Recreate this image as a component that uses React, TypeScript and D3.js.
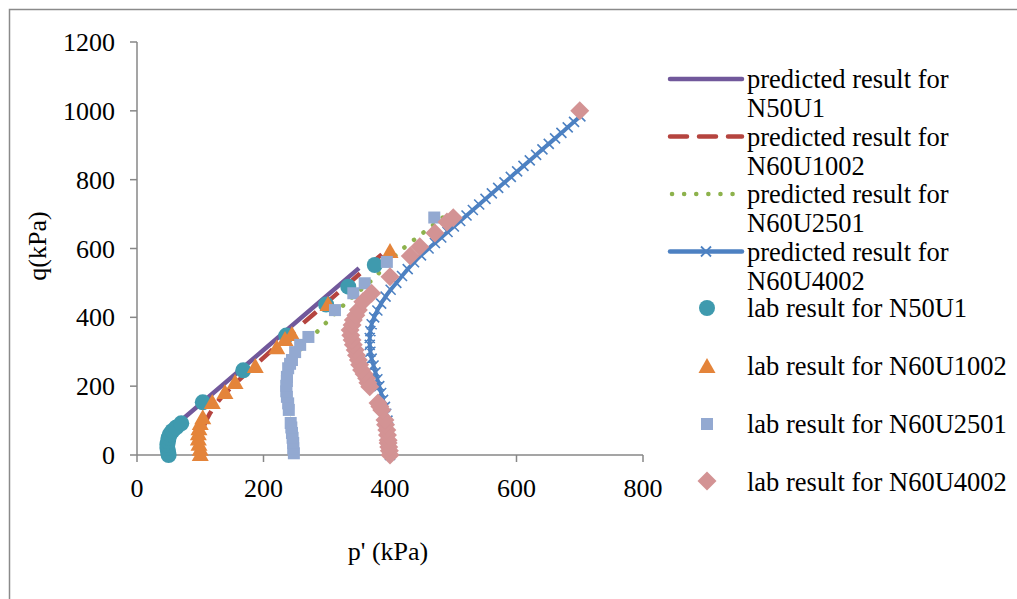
import React from 'react';
import * as d3 from 'd3';

// axis ticks
const xTicks = [0, 200, 400, 600, 800];
const yTicks = [0, 200, 400, 600, 800, 1000, 1200];

// predicted paths [p', q]
const predN50U1: [number, number][] = [
  [50, 0], [50, 30], [56, 60], [76, 110], [200, 305], [351, 543],
];
const predN60U1002: [number, number][] = [
  [100, 0], [101, 40], [105, 80], [115, 120], [130, 160], [205, 291], [281, 412], [395, 596],
];
const predN60U2501: [number, number][] = [
  [250, 0], [247, 50], [243, 100], [240, 150], [240, 200], [244, 250], [252, 290], [270, 330],
  [294, 375], [332, 445], [373, 511], [411, 584], [454, 648], [485, 692],
];
const predN60U4002: [number, number][] = [
  [400, 0], [400, 20], [399, 40], [398, 60], [397, 80], [396, 100], [394, 120], [392, 140],
  [389, 160], [386, 180], [383, 200], [380, 220], [377, 240], [374, 260], [371, 280], [369, 300],
  [368, 320], [368, 340], [369, 360], [371, 380], [375, 400], [380, 420], [386, 440], [393, 460],
  [401, 480], [410, 500], [419, 520], [428, 540], [438, 560], [449, 580], [461, 600],
  [471, 616], [481, 632], [491, 648], [501, 664], [511, 680], [521, 696], [531, 712], [541, 728],
  [551, 744], [561, 760], [571, 776], [581, 792], [591, 808], [601, 824], [611, 840], [621, 856],
  [631, 872], [641, 888], [651, 904], [661, 920], [671, 936], [681, 952], [691, 968], [701, 984],
];

// lab results [p', q]
const labN50U1: [number, number][] = [
  [50, 0], [49, 10], [48, 20], [48, 30], [49, 40], [50, 50], [52, 60], [56, 70], [62, 80],
  [70, 92], [104, 153], [168, 246], [236, 347], [299, 437], [334, 489], [376, 552],
];
const labN60U1002: [number, number][] = [
  [100, 0], [100, 15], [98, 30], [97, 45], [97, 60], [98, 75], [100, 90], [104, 107], [119, 151],
  [139, 180], [155, 209], [187, 256], [221, 310], [234, 334], [245, 349], [302, 436], [400, 590],
];
const labN60U2501: [number, number][] = [
  [248, 5], [247, 20], [247, 35], [246, 50], [245, 64], [244, 80], [243, 93], [240, 131],
  [239, 150], [237, 169], [236, 185], [236, 201], [237, 215], [237, 227], [239, 252], [242, 265],
  [245, 276], [250, 299], [258, 320], [271, 343], [313, 421], [342, 470], [360, 499], [395, 561],
  [470, 690],
];
const labN60U4002: [number, number][] = [
  [400, 0], [399, 12], [398, 23], [397, 35], [397, 43], [396, 58], [395, 73], [393, 88], [392, 102],
  [387, 131], [384, 141], [381, 151], [368, 198], [365, 210], [363, 223], [359, 235], [355, 247],
  [352, 262], [350, 276], [347, 290], [345, 305], [342, 320], [340, 334], [338, 348], [337, 363],
  [340, 378], [342, 392], [346, 406], [350, 421], [357, 445], [371, 470], [400, 518], [432, 578],
  [447, 605], [471, 645], [490, 677], [500, 689], [700, 1000],
];

const legendLabels = [
  ['predicted result for', 'N50U1'],
  ['predicted result for', 'N60U1002'],
  ['predicted result for', 'N60U2501'],
  ['predicted result for', 'N60U4002'],
  ['lab result for N50U1'],
  ['lab result for N60U1002'],
  ['lab result for N60U2501'],
  ['lab result for N60U4002'],
];

const C = {
  purple: '#71589b',
  red: '#b5443f',
  green: '#8db24c',
  blue: '#4d81c2',
  teal: '#3f9aae',
  orange: '#e4843a',
  square: '#93a9d1',
  diamond: '#d39394',
  axis: '#878787',
};

const font = "'Liberation Serif', 'Times New Roman', Times, serif";

const tri = (cx: number, cy: number) => `M${cx},${cy - 9}L${cx + 8.5},${cy + 6}L${cx - 8.5},${cy + 6}Z`;
const dia = (cx: number, cy: number) => `M${cx},${cy - 9.5}L${cx + 9.5},${cy}L${cx},${cy + 9.5}L${cx - 9.5},${cy}Z`;
const cross = (cx: number, cy: number) => `M${cx - 5},${cy - 5}L${cx + 5},${cy + 5}M${cx - 5},${cy + 5}L${cx + 5},${cy - 5}`;

const T = (props: any) => <text fontFamily={font} style={{ fontFamily: font }} {...props} />;

export default function App() {
  const x = d3.scaleLinear().domain([0, 800]).range([137, 643]);
  const y = d3.scaleLinear().domain([0, 1200]).range([455, 42]);

  const lin = d3.line<[number, number]>().x(d => x(d[0])).y(d => y(d[1]));
  const smooth = d3.line<[number, number]>().x(d => x(d[0])).y(d => y(d[1])).curve(d3.curveCatmullRom);

  const lgX0 = 670, lgX1 = 742, lgText = 747;

  return (
    <svg width={1017} height={599} style={{ position: 'absolute', left: 0, top: 0, background: '#fff', fontFamily: font }}>
      <rect x={9.5} y={9.5} width={1030} height={620} fill="none" stroke="#8a8a8a" strokeWidth={1.5} />

      {/* axes */}
      <line x1={x(0)} x2={x(0)} y1={y(1200)} y2={y(0)} stroke={C.axis} strokeWidth={1.5} />
      <line x1={x(0)} x2={x(800)} y1={y(0)} y2={y(0)} stroke={C.axis} strokeWidth={1.5} />
      {yTicks.map(t => (
        <g key={'y' + t}>
          <line x1={x(0) - 7} x2={x(0)} y1={y(t)} y2={y(t)} stroke={C.axis} strokeWidth={1.5} />
          <T x={115} y={y(t)} dy="0.35em" textAnchor="end" fontSize={26}>{t}</T>
        </g>
      ))}
      {xTicks.map(t => (
        <g key={'x' + t}>
          <line x1={x(t)} x2={x(t)} y1={y(0)} y2={y(0) + 7} stroke={C.axis} strokeWidth={1.5} />
          <T x={x(t)} y={488} dy="0.35em" textAnchor="middle" fontSize={26}>{t}</T>
        </g>
      ))}
      <T x={388} y={551} dy="0.35em" textAnchor="middle" fontSize={26}>p' (kPa)</T>
      <T transform="translate(37,246) rotate(-90)" dy="0.35em" textAnchor="middle" fontSize={26}>q(kPa)</T>

      {/* predicted lines */}
      <path d={lin(predN50U1) ?? ''} fill="none" stroke={C.purple} strokeWidth={4.5} />
      <path d={smooth(predN60U1002) ?? ''} fill="none" stroke={C.red} strokeWidth={4.5} strokeDasharray="17 12" />
      <path d={smooth(predN60U2501) ?? ''} fill="none" stroke={C.green} strokeWidth={4.5} strokeDasharray="0.1 12" strokeLinecap="round" />
      <path d={smooth(predN60U4002) ?? ''} fill="none" stroke={C.blue} strokeWidth={4} />
      <path d={predN60U4002.map(d => cross(x(d[0]), y(d[1]))).join('')} fill="none" stroke={C.blue} strokeWidth={1.6} />

      {/* lab points */}
      {labN50U1.map((d, i) => <circle key={'c' + i} cx={x(d[0])} cy={y(d[1])} r={8} fill={C.teal} />)}
      {labN60U1002.map((d, i) => <path key={'t' + i} d={tri(x(d[0]), y(d[1]))} fill={C.orange} />)}
      {labN60U2501.map((d, i) => <rect key={'s' + i} x={x(d[0]) - 6} y={y(d[1]) - 6} width={12} height={12} fill={C.square} />)}
      {labN60U4002.map((d, i) => <path key={'d' + i} d={dia(x(d[0]), y(d[1]))} fill={C.diamond} />)}

      {/* legend */}
      <g>
        {legendLabels.slice(0, 4).map((lines, i) => {
          const cy = 79 + i * 57.5;
          return (
            <g key={'lp' + i}>
              {lines.map((s, j) => (
                <T key={j} x={lgText} y={cy + j * 29} dy="0.35em" fontSize={26.5}>{s}</T>
              ))}
            </g>
          );
        })}
        <line x1={lgX0} x2={lgX1} y1={79} y2={79} stroke={C.purple} strokeWidth={4.5} strokeLinecap="round" />
        <line x1={lgX0} x2={lgX1} y1={136.5} y2={136.5} stroke={C.red} strokeWidth={4.5} strokeDasharray="17 12" strokeLinecap="round" />
        <line x1={lgX0 + 2} x2={lgX1} y1={194} y2={194} stroke={C.green} strokeWidth={4.5} strokeDasharray="0.1 12" strokeLinecap="round" />
        <line x1={lgX0} x2={lgX1} y1={251.5} y2={251.5} stroke={C.blue} strokeWidth={4.5} strokeLinecap="round" />
        <path d={cross(706, 251.5)} stroke={C.blue} strokeWidth={1.8} fill="none" />

        {legendLabels.slice(4).map((lines, i) => (
          <T key={'ll' + i} x={lgText} y={308 + i * 58} dy="0.35em" fontSize={26.5}>{lines[0]}</T>
        ))}
        <circle cx={707} cy={308} r={8} fill={C.teal} />
        <path d={tri(707, 367)} fill={C.orange} />
        <rect x={701} y={418} width={12} height={12} fill={C.square} />
        <path d={dia(707, 481)} fill={C.diamond} />
      </g>
    </svg>
  );
}
